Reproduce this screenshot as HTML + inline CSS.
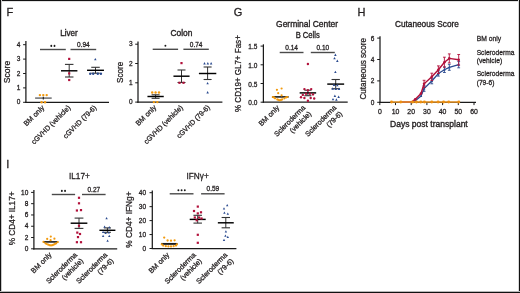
<!DOCTYPE html>
<html><head><meta charset="utf-8"><style>
html,body{margin:0;padding:0;background:#fff;overflow:hidden;}
svg{display:block;font-family:"Liberation Sans", sans-serif;will-change:transform;}
text{fill:#231f20;stroke:#231f20;stroke-width:0.28px;}
text.b{stroke-width:0.3px;}
text.p{stroke-width:0.3px;}
text.t{stroke-width:0.36px;}
</style></head><body>
<svg width="520" height="293" viewBox="0 0 520 293">
<rect width="520" height="293" fill="#fff"/>
<text x="6.6" y="15.9" font-size="11" class="p">F</text>
<text x="233.7" y="15.9" font-size="11" class="p">G</text>
<text x="357.6" y="15.9" font-size="11" class="p">H</text>
<text x="6.3" y="168.2" font-size="11" class="p">I</text>
<line x1="25.9" y1="41" x2="25.9" y2="102.9" stroke="#1a1a1a" stroke-width="1.25"/>
<line x1="25.3" y1="102.3" x2="109" y2="102.3" stroke="#1a1a1a" stroke-width="1.25"/>
<line x1="23.1" y1="102.3" x2="25.9" y2="102.3" stroke="#1a1a1a" stroke-width="1.0"/>
<text x="20.4" y="104.4" font-size="6.5" text-anchor="end">0</text>
<line x1="23.1" y1="87.9" x2="25.9" y2="87.9" stroke="#1a1a1a" stroke-width="1.0"/>
<text x="20.4" y="90.0" font-size="6.5" text-anchor="end">1</text>
<line x1="23.1" y1="73.5" x2="25.9" y2="73.5" stroke="#1a1a1a" stroke-width="1.0"/>
<text x="20.4" y="75.6" font-size="6.5" text-anchor="end">2</text>
<line x1="23.1" y1="59.1" x2="25.9" y2="59.1" stroke="#1a1a1a" stroke-width="1.0"/>
<text x="20.4" y="61.2" font-size="6.5" text-anchor="end">3</text>
<line x1="23.1" y1="44.7" x2="25.9" y2="44.7" stroke="#1a1a1a" stroke-width="1.0"/>
<text x="20.4" y="46.8" font-size="6.5" text-anchor="end">4</text>
<text x="69" y="35.9" font-size="8.7" text-anchor="middle" class="t" textLength="17.6" lengthAdjust="spacingAndGlyphs">Liver</text>
<text transform="translate(10.3,72.0) rotate(-90)" font-size="8.4" text-anchor="middle" textLength="22.4" lengthAdjust="spacingAndGlyphs">Score</text>
<line x1="40" y1="49.5" x2="65.8" y2="49.5" stroke="#4a4a4a" stroke-width="1.4"/>
<ellipse cx="51.3" cy="45.9" rx="0.95" ry="1.05" fill="#1a1a1a"/>
<ellipse cx="54.5" cy="45.9" rx="0.95" ry="1.05" fill="#1a1a1a"/>
<line x1="70.5" y1="49.5" x2="96.2" y2="49.5" stroke="#4a4a4a" stroke-width="1.4"/>
<text x="83.35" y="46.9" font-size="6.5" text-anchor="middle">0.94</text>
<circle cx="39.9" cy="95.1" r="1.2" fill="#f29a0e"/>
<circle cx="43.3" cy="95.1" r="1.2" fill="#f29a0e"/>
<circle cx="46.7" cy="95.1" r="1.2" fill="#f29a0e"/>
<circle cx="41.6" cy="102.3" r="1.2" fill="#f29a0e"/>
<circle cx="45.0" cy="102.3" r="1.2" fill="#f29a0e"/>
<line x1="35.1" y1="98.1" x2="51.7" y2="98.1" stroke="#6d6e71" stroke-width="1.5"/>
<line x1="43.3" y1="96.8" x2="43.3" y2="99.6" stroke="#1a1a1a" stroke-width="1.1"/>
<line x1="69.2" y1="64.4" x2="69.2" y2="77.0" stroke="#333" stroke-width="1.0"/>
<line x1="64.95" y1="64.4" x2="73.45" y2="64.4" stroke="#333" stroke-width="1.1"/>
<line x1="64.95" y1="77.0" x2="73.45" y2="77.0" stroke="#333" stroke-width="1.1"/>
<line x1="61.0" y1="70.8" x2="77.4" y2="70.8" stroke="#000" stroke-width="1.45"/>
<rect x="68.1" y="57.8" width="2.2" height="2.2" fill="#b2113b"/>
<rect x="68.1" y="72.3" width="2.2" height="2.2" fill="#b2113b"/>
<rect x="68.1" y="78.9" width="2.2" height="2.2" fill="#b2113b"/>
<line x1="95.5" y1="67.3" x2="95.5" y2="73.2" stroke="#333" stroke-width="1.0"/>
<line x1="91.25" y1="67.3" x2="99.75" y2="67.3" stroke="#333" stroke-width="1.1"/>
<line x1="91.25" y1="73.2" x2="99.75" y2="73.2" stroke="#333" stroke-width="1.1"/>
<line x1="87.05" y1="70.3" x2="103.95" y2="70.3" stroke="#000" stroke-width="1.45"/>
<path d="M95.3 57.88L96.55 60.25L94.05 60.25Z" fill="#2a4a8f"/>
<circle cx="90.2" cy="73.7" r="1.2" fill="#2a4a8f"/>
<circle cx="93.2" cy="73.7" r="1.2" fill="#2a4a8f"/>
<circle cx="97.8" cy="73.7" r="1.2" fill="#2a4a8f"/>
<circle cx="100.9" cy="73.7" r="1.2" fill="#2a4a8f"/>
<text transform="translate(44.8,108.2) rotate(-45)" font-size="7.2" text-anchor="end">BM only</text>
<text transform="translate(70.8,108.2) rotate(-45)" font-size="7.2" text-anchor="end" textLength="51.6" lengthAdjust="spacingAndGlyphs">cGVHD (vehicle)</text>
<text transform="translate(96.8,108.2) rotate(-45)" font-size="7.2" text-anchor="end" textLength="43.4" lengthAdjust="spacingAndGlyphs">cGVHD (79-6)</text>
<line x1="138.0" y1="41.6" x2="138.0" y2="102.7" stroke="#1a1a1a" stroke-width="1.25"/>
<line x1="137.4" y1="102.1" x2="222.4" y2="102.1" stroke="#1a1a1a" stroke-width="1.25"/>
<line x1="135.2" y1="102.1" x2="138.0" y2="102.1" stroke="#1a1a1a" stroke-width="1.0"/>
<text x="132.5" y="104.2" font-size="6.5" text-anchor="end">0</text>
<line x1="135.2" y1="82.8" x2="138.0" y2="82.8" stroke="#1a1a1a" stroke-width="1.0"/>
<text x="132.5" y="84.9" font-size="6.5" text-anchor="end">1</text>
<line x1="135.2" y1="63.5" x2="138.0" y2="63.5" stroke="#1a1a1a" stroke-width="1.0"/>
<text x="132.5" y="65.6" font-size="6.5" text-anchor="end">2</text>
<line x1="135.2" y1="44.2" x2="138.0" y2="44.2" stroke="#1a1a1a" stroke-width="1.0"/>
<text x="132.5" y="46.3" font-size="6.5" text-anchor="end">3</text>
<text x="181.5" y="36.0" font-size="8.7" text-anchor="middle" class="t" textLength="21.9" lengthAdjust="spacingAndGlyphs">Colon</text>
<text transform="translate(122.6,72.3) rotate(-90)" font-size="8.4" text-anchor="middle" textLength="21.2" lengthAdjust="spacingAndGlyphs">Score</text>
<line x1="152.7" y1="49.3" x2="178.1" y2="49.3" stroke="#4a4a4a" stroke-width="1.4"/>
<ellipse cx="165.4" cy="45.7" rx="0.95" ry="1.05" fill="#1a1a1a"/>
<line x1="183.4" y1="49.3" x2="208.8" y2="49.3" stroke="#4a4a4a" stroke-width="1.4"/>
<text x="196.1" y="46.7" font-size="6.5" text-anchor="middle">0.74</text>
<circle cx="152.2" cy="92.44999999999999" r="1.2" fill="#f29a0e"/>
<circle cx="155.6" cy="92.44999999999999" r="1.2" fill="#f29a0e"/>
<circle cx="159.0" cy="92.44999999999999" r="1.2" fill="#f29a0e"/>
<circle cx="153.9" cy="102.1" r="1.2" fill="#f29a0e"/>
<circle cx="157.3" cy="102.1" r="1.2" fill="#f29a0e"/>
<line x1="155.6" y1="94.8" x2="155.6" y2="98.3" stroke="#333" stroke-width="1.0"/>
<line x1="151.6" y1="94.8" x2="159.6" y2="94.8" stroke="#333" stroke-width="1.1"/>
<line x1="151.6" y1="98.3" x2="159.6" y2="98.3" stroke="#333" stroke-width="1.1"/>
<line x1="147.45" y1="96.5" x2="163.75" y2="96.5" stroke="#000" stroke-width="1.45"/>
<line x1="181.5" y1="70.0" x2="181.5" y2="82.5" stroke="#333" stroke-width="1.0"/>
<line x1="177.5" y1="70.0" x2="185.5" y2="70.0" stroke="#333" stroke-width="1.1"/>
<line x1="177.5" y1="82.5" x2="185.5" y2="82.5" stroke="#333" stroke-width="1.1"/>
<line x1="173.45" y1="76.2" x2="189.55" y2="76.2" stroke="#000" stroke-width="1.45"/>
<rect x="180.4" y="62.0" width="2.2" height="2.2" fill="#b2113b"/>
<rect x="178.4" y="81.7" width="2.2" height="2.2" fill="#b2113b"/>
<rect x="182.4" y="81.7" width="2.2" height="2.2" fill="#b2113b"/>
<line x1="207.6" y1="67.0" x2="207.6" y2="79.5" stroke="#333" stroke-width="1.0"/>
<line x1="203.6" y1="67.0" x2="211.6" y2="67.0" stroke="#333" stroke-width="1.1"/>
<line x1="203.6" y1="79.5" x2="211.6" y2="79.5" stroke="#333" stroke-width="1.1"/>
<line x1="198.9" y1="73.5" x2="216.3" y2="73.5" stroke="#000" stroke-width="1.45"/>
<path d="M204.5 62.08L205.75 64.45L203.25 64.45Z" fill="#2a4a8f"/>
<path d="M207.8 62.08L209.05 64.45L206.55 64.45Z" fill="#2a4a8f"/>
<path d="M211.1 62.08L212.35 64.45L209.85 64.45Z" fill="#2a4a8f"/>
<path d="M207.6 81.98L208.85 84.35L206.35 84.35Z" fill="#2a4a8f"/>
<path d="M207.6 91.08L208.85 93.45L206.35 93.45Z" fill="#2a4a8f"/>
<text transform="translate(156.8,108.0) rotate(-45)" font-size="7.2" text-anchor="end">BM only</text>
<text transform="translate(183.3,108.0) rotate(-45)" font-size="7.2" text-anchor="end" textLength="51.6" lengthAdjust="spacingAndGlyphs">cGVHD (vehicle)</text>
<text transform="translate(210.3,108.0) rotate(-45)" font-size="7.2" text-anchor="end" textLength="43.4" lengthAdjust="spacingAndGlyphs">cGVHD (79-6)</text>
<line x1="263.4" y1="44.3" x2="263.4" y2="102.8" stroke="#1a1a1a" stroke-width="1.25"/>
<line x1="262.8" y1="102.2" x2="347.7" y2="102.2" stroke="#1a1a1a" stroke-width="1.25"/>
<line x1="260.6" y1="102.2" x2="263.4" y2="102.2" stroke="#1a1a1a" stroke-width="1.0"/>
<text x="257.4" y="105.2" font-size="6.5" text-anchor="end">0.0</text>
<line x1="260.6" y1="83.5" x2="263.4" y2="83.5" stroke="#1a1a1a" stroke-width="1.0"/>
<text x="257.4" y="86.5" font-size="6.5" text-anchor="end">0.5</text>
<line x1="260.6" y1="64.8" x2="263.4" y2="64.8" stroke="#1a1a1a" stroke-width="1.0"/>
<text x="257.4" y="67.8" font-size="6.5" text-anchor="end">1.0</text>
<line x1="260.6" y1="46.1" x2="263.4" y2="46.1" stroke="#1a1a1a" stroke-width="1.0"/>
<text x="257.4" y="49.1" font-size="6.5" text-anchor="end">1.5</text>
<text x="307.1" y="26.6" font-size="9.0" text-anchor="middle" class="t" textLength="62" lengthAdjust="spacingAndGlyphs">Germinal Center</text>
<text x="307.7" y="37.7" font-size="9.0" text-anchor="middle" class="t" textLength="24.1" lengthAdjust="spacingAndGlyphs">B Cells</text>
<text transform="translate(241.4,73.6) rotate(-90)" font-size="9.0" text-anchor="middle" textLength="76.8" lengthAdjust="spacingAndGlyphs">% CD19+ GL7+ Fas+</text>
<line x1="279.7" y1="52.5" x2="303.5" y2="52.5" stroke="#4a4a4a" stroke-width="1.4"/>
<text x="291.6" y="49.9" font-size="6.5" text-anchor="middle">0.14</text>
<line x1="310.8" y1="52.5" x2="334.8" y2="52.5" stroke="#4a4a4a" stroke-width="1.4"/>
<text x="322.8" y="49.9" font-size="6.5" text-anchor="middle">0.10</text>
<line x1="272" y1="96.9" x2="288.6" y2="96.9" stroke="#1a1a1a" stroke-width="1.6"/>
<circle cx="276.9" cy="89.8" r="1.1" fill="#f29a0e"/>
<circle cx="281.6" cy="88.5" r="1.1" fill="#f29a0e"/>
<circle cx="278.2" cy="93.2" r="1.1" fill="#f29a0e"/>
<circle cx="281.6" cy="95.3" r="1.1" fill="#f29a0e"/>
<circle cx="272.8" cy="97" r="1.1" fill="#f29a0e"/>
<circle cx="275" cy="98.3" r="1.1" fill="#f29a0e"/>
<circle cx="277.3" cy="99.4" r="1.1" fill="#f29a0e"/>
<circle cx="279.7" cy="100.4" r="1.1" fill="#f29a0e"/>
<circle cx="282.2" cy="99.4" r="1.1" fill="#f29a0e"/>
<circle cx="284.4" cy="98.3" r="1.1" fill="#f29a0e"/>
<circle cx="287.3" cy="97" r="1.1" fill="#f29a0e"/>
<circle cx="274.0" cy="97.4" r="1.1" fill="#f29a0e"/>
<circle cx="286.1" cy="97.4" r="1.1" fill="#f29a0e"/>
<circle cx="278.5" cy="99.9" r="1.1" fill="#f29a0e"/>
<circle cx="281.0" cy="99.9" r="1.1" fill="#f29a0e"/>
<line x1="307.9" y1="90.2" x2="307.9" y2="95.7" stroke="#333" stroke-width="1.0"/>
<line x1="304.4" y1="90.2" x2="311.4" y2="90.2" stroke="#333" stroke-width="1.1"/>
<line x1="304.4" y1="95.7" x2="311.4" y2="95.7" stroke="#333" stroke-width="1.1"/>
<line x1="299.65" y1="92.9" x2="316.15" y2="92.9" stroke="#000" stroke-width="1.45"/>
<circle cx="307.9" cy="64" r="1.2" fill="#b2113b"/>
<circle cx="304.4" cy="89.1" r="1.2" fill="#b2113b"/>
<circle cx="307.9" cy="90.2" r="1.2" fill="#b2113b"/>
<circle cx="311.2" cy="89.1" r="1.2" fill="#b2113b"/>
<circle cx="302.8" cy="94.9" r="1.2" fill="#b2113b"/>
<circle cx="306" cy="93.8" r="1.2" fill="#b2113b"/>
<circle cx="309.9" cy="93.8" r="1.2" fill="#b2113b"/>
<circle cx="313" cy="94.4" r="1.2" fill="#b2113b"/>
<circle cx="301" cy="97.2" r="1.2" fill="#b2113b"/>
<circle cx="304.4" cy="98" r="1.2" fill="#b2113b"/>
<circle cx="310.7" cy="98" r="1.2" fill="#b2113b"/>
<circle cx="314.2" cy="98.5" r="1.2" fill="#b2113b"/>
<circle cx="307.9" cy="100.7" r="1.2" fill="#b2113b"/>
<line x1="335.7" y1="79.5" x2="335.7" y2="88.7" stroke="#333" stroke-width="1.0"/>
<line x1="331.55" y1="79.5" x2="339.85" y2="79.5" stroke="#333" stroke-width="1.1"/>
<line x1="331.55" y1="88.7" x2="339.85" y2="88.7" stroke="#333" stroke-width="1.1"/>
<line x1="327.25" y1="84.1" x2="344.15" y2="84.1" stroke="#000" stroke-width="1.45"/>
<path d="M335.4 53.58L336.65 55.95L334.15 55.95Z" fill="#2a4a8f"/>
<path d="M334.5 56.88L335.75 59.25L333.25 59.25Z" fill="#2a4a8f"/>
<path d="M337.3 59.58L338.55 61.95L336.05 61.95Z" fill="#2a4a8f"/>
<path d="M335.4 70.67L336.65 73.05L334.15 73.05Z" fill="#2a4a8f"/>
<path d="M334 83.58L335.25 85.95L332.75 85.95Z" fill="#2a4a8f"/>
<path d="M337.3 83.98L338.55 86.35L336.05 86.35Z" fill="#2a4a8f"/>
<path d="M332.7 87.28L333.95 89.65L331.45 89.65Z" fill="#2a4a8f"/>
<path d="M335.8 87.58L337.05 89.95L334.55 89.95Z" fill="#2a4a8f"/>
<path d="M339 87.58L340.25 89.95L337.75 89.95Z" fill="#2a4a8f"/>
<path d="M334.9 94.58L336.15 96.95L333.65 96.95Z" fill="#2a4a8f"/>
<path d="M338.6 95.58L339.85 97.95L337.35 97.95Z" fill="#2a4a8f"/>
<path d="M333 97.98L334.25 100.35L331.75 100.35Z" fill="#2a4a8f"/>
<path d="M336.4 98.28L337.65 100.65L335.15 100.65Z" fill="#2a4a8f"/>
<text transform="translate(279.8,108.2) rotate(-45)" font-size="7.2" text-anchor="end">BM only</text>
<text transform="translate(305.8,108.2) rotate(-45)" font-size="7.2" text-anchor="end">Scleroderma</text>
<text transform="translate(311.81,114.21) rotate(-45)" font-size="7.2" text-anchor="end">(vehicle)</text>
<text transform="translate(336.8,108.2) rotate(-45)" font-size="7.2" text-anchor="end">Scleroderma</text>
<text transform="translate(342.81,114.21) rotate(-45)" font-size="7.2" text-anchor="end">(79-6)</text>
<line x1="380.0" y1="36.2" x2="380.0" y2="102.9" stroke="#1a1a1a" stroke-width="1.25"/>
<line x1="379.4" y1="102.3" x2="476" y2="102.3" stroke="#1a1a1a" stroke-width="1.25"/>
<line x1="377.2" y1="102.3" x2="380.0" y2="102.3" stroke="#1a1a1a" stroke-width="1.0"/>
<text x="374.4" y="104.8" font-size="6.5" text-anchor="end">0</text>
<line x1="377.2" y1="80.9" x2="380.0" y2="80.9" stroke="#1a1a1a" stroke-width="1.0"/>
<text x="374.4" y="83.4" font-size="6.5" text-anchor="end">2</text>
<line x1="377.2" y1="59.5" x2="380.0" y2="59.5" stroke="#1a1a1a" stroke-width="1.0"/>
<text x="374.4" y="62.0" font-size="6.5" text-anchor="end">4</text>
<line x1="377.2" y1="38.1" x2="380.0" y2="38.1" stroke="#1a1a1a" stroke-width="1.0"/>
<text x="374.4" y="40.6" font-size="6.5" text-anchor="end">6</text>
<line x1="379.8" y1="102.3" x2="379.8" y2="105.1" stroke="#1a1a1a" stroke-width="1.0"/>
<text x="379.8" y="114.0" font-size="6.9" text-anchor="middle">0</text>
<line x1="395.5" y1="102.3" x2="395.5" y2="105.1" stroke="#1a1a1a" stroke-width="1.0"/>
<text x="395.5" y="114.0" font-size="6.9" text-anchor="middle">10</text>
<line x1="411.2" y1="102.3" x2="411.2" y2="105.1" stroke="#1a1a1a" stroke-width="1.0"/>
<text x="411.2" y="114.0" font-size="6.9" text-anchor="middle">20</text>
<line x1="426.9" y1="102.3" x2="426.9" y2="105.1" stroke="#1a1a1a" stroke-width="1.0"/>
<text x="426.9" y="114.0" font-size="6.9" text-anchor="middle">30</text>
<line x1="442.6" y1="102.3" x2="442.6" y2="105.1" stroke="#1a1a1a" stroke-width="1.0"/>
<text x="442.6" y="114.0" font-size="6.9" text-anchor="middle">40</text>
<line x1="458.3" y1="102.3" x2="458.3" y2="105.1" stroke="#1a1a1a" stroke-width="1.0"/>
<text x="458.3" y="114.0" font-size="6.9" text-anchor="middle">50</text>
<line x1="474.0" y1="102.3" x2="474.0" y2="105.1" stroke="#1a1a1a" stroke-width="1.0"/>
<text x="474.0" y="114.0" font-size="6.9" text-anchor="middle">60</text>
<text x="426.9" y="26.6" font-size="9.0" text-anchor="middle" class="t" textLength="63.9" lengthAdjust="spacingAndGlyphs">Cutaneous Score</text>
<text x="428.9" y="127.2" font-size="9.0" text-anchor="middle" class="t" textLength="77.7" lengthAdjust="spacingAndGlyphs">Days post transplant</text>
<text transform="translate(365.9,68.8) rotate(-90)" font-size="9.0" text-anchor="middle" textLength="61.5" lengthAdjust="spacingAndGlyphs">Cutaneous score</text>
<polyline points="400.8,102.3 411.6,102.3 415.3,100.7 421,96 424.1,88.5 431.8,81 438.4,73.5 444.4,69.7 449.3,67.3 458.7,64.6" fill="none" stroke="#2a4a8f" stroke-width="1.3"/>
<line x1="424.1" y1="85.7" x2="424.1" y2="91.3" stroke="#2a4a8f" stroke-width="0.9"/>
<line x1="422.7" y1="91.3" x2="425.5" y2="91.3" stroke="#2a4a8f" stroke-width="0.9"/>
<line x1="422.7" y1="85.7" x2="425.5" y2="85.7" stroke="#2a4a8f" stroke-width="0.9"/>
<line x1="431.8" y1="78.2" x2="431.8" y2="83.8" stroke="#2a4a8f" stroke-width="0.9"/>
<line x1="430.4" y1="83.8" x2="433.2" y2="83.8" stroke="#2a4a8f" stroke-width="0.9"/>
<line x1="430.4" y1="78.2" x2="433.2" y2="78.2" stroke="#2a4a8f" stroke-width="0.9"/>
<line x1="438.4" y1="70.9" x2="438.4" y2="76.1" stroke="#2a4a8f" stroke-width="0.9"/>
<line x1="437.0" y1="76.1" x2="439.8" y2="76.1" stroke="#2a4a8f" stroke-width="0.9"/>
<line x1="437.0" y1="70.9" x2="439.8" y2="70.9" stroke="#2a4a8f" stroke-width="0.9"/>
<line x1="444.4" y1="66.9" x2="444.4" y2="72.5" stroke="#2a4a8f" stroke-width="0.9"/>
<line x1="443.0" y1="72.5" x2="445.8" y2="72.5" stroke="#2a4a8f" stroke-width="0.9"/>
<line x1="443.0" y1="66.9" x2="445.8" y2="66.9" stroke="#2a4a8f" stroke-width="0.9"/>
<line x1="449.3" y1="64.3" x2="449.3" y2="70.3" stroke="#2a4a8f" stroke-width="0.9"/>
<line x1="447.9" y1="70.3" x2="450.7" y2="70.3" stroke="#2a4a8f" stroke-width="0.9"/>
<line x1="447.9" y1="64.3" x2="450.7" y2="64.3" stroke="#2a4a8f" stroke-width="0.9"/>
<line x1="458.7" y1="61.4" x2="458.7" y2="67.8" stroke="#2a4a8f" stroke-width="0.9"/>
<line x1="457.3" y1="67.8" x2="460.1" y2="67.8" stroke="#2a4a8f" stroke-width="0.9"/>
<line x1="457.3" y1="61.4" x2="460.1" y2="61.4" stroke="#2a4a8f" stroke-width="0.9"/>
<path d="M415.3 99.28L416.55 101.65L414.05 101.65Z" fill="#2a4a8f"/>
<path d="M421 94.58L422.25 96.95L419.75 96.95Z" fill="#2a4a8f"/>
<path d="M424.1 87.08L425.35 89.45L422.85 89.45Z" fill="#2a4a8f"/>
<path d="M431.8 79.58L433.05 81.95L430.55 81.95Z" fill="#2a4a8f"/>
<path d="M438.4 72.08L439.65 74.45L437.15 74.45Z" fill="#2a4a8f"/>
<path d="M444.4 68.28L445.65 70.65L443.15 70.65Z" fill="#2a4a8f"/>
<path d="M449.3 65.88L450.55 68.25L448.05 68.25Z" fill="#2a4a8f"/>
<path d="M458.7 63.17L459.95 65.55L457.45 65.55Z" fill="#2a4a8f"/>
<polyline points="400.8,102.0 411.6,102.0 415.3,99.2 421,93.5 424.1,83.8 431.8,76.8 438.4,69.7 444.4,62.2 449.3,58.4 458.7,59.8" fill="none" stroke="#b2113b" stroke-width="1.45"/>
<line x1="424.1" y1="80.3" x2="424.1" y2="87.3" stroke="#b2113b" stroke-width="0.9"/>
<line x1="422.7" y1="80.3" x2="425.5" y2="80.3" stroke="#b2113b" stroke-width="0.9"/>
<line x1="422.7" y1="87.3" x2="425.5" y2="87.3" stroke="#b2113b" stroke-width="0.9"/>
<line x1="431.8" y1="73.2" x2="431.8" y2="80.4" stroke="#b2113b" stroke-width="0.9"/>
<line x1="430.4" y1="73.2" x2="433.2" y2="73.2" stroke="#b2113b" stroke-width="0.9"/>
<line x1="430.4" y1="80.4" x2="433.2" y2="80.4" stroke="#b2113b" stroke-width="0.9"/>
<line x1="438.4" y1="65.9" x2="438.4" y2="73.5" stroke="#b2113b" stroke-width="0.9"/>
<line x1="437.0" y1="65.9" x2="439.8" y2="65.9" stroke="#b2113b" stroke-width="0.9"/>
<line x1="437.0" y1="73.5" x2="439.8" y2="73.5" stroke="#b2113b" stroke-width="0.9"/>
<line x1="444.4" y1="57.2" x2="444.4" y2="67.2" stroke="#b2113b" stroke-width="0.9"/>
<line x1="443.0" y1="57.2" x2="445.8" y2="57.2" stroke="#b2113b" stroke-width="0.9"/>
<line x1="443.0" y1="67.2" x2="445.8" y2="67.2" stroke="#b2113b" stroke-width="0.9"/>
<line x1="449.3" y1="53.9" x2="449.3" y2="62.9" stroke="#b2113b" stroke-width="0.9"/>
<line x1="447.9" y1="53.9" x2="450.7" y2="53.9" stroke="#b2113b" stroke-width="0.9"/>
<line x1="447.9" y1="62.9" x2="450.7" y2="62.9" stroke="#b2113b" stroke-width="0.9"/>
<line x1="458.7" y1="54.5" x2="458.7" y2="65.1" stroke="#b2113b" stroke-width="0.9"/>
<line x1="457.3" y1="54.5" x2="460.1" y2="54.5" stroke="#b2113b" stroke-width="0.9"/>
<line x1="457.3" y1="65.1" x2="460.1" y2="65.1" stroke="#b2113b" stroke-width="0.9"/>
<circle cx="415.3" cy="99.2" r="1.3" fill="#b2113b"/>
<circle cx="421" cy="93.5" r="1.3" fill="#b2113b"/>
<circle cx="424.1" cy="83.8" r="1.3" fill="#b2113b"/>
<circle cx="431.8" cy="76.8" r="1.3" fill="#b2113b"/>
<circle cx="438.4" cy="69.7" r="1.3" fill="#b2113b"/>
<circle cx="444.4" cy="62.2" r="1.3" fill="#b2113b"/>
<circle cx="449.3" cy="58.4" r="1.3" fill="#b2113b"/>
<circle cx="458.7" cy="59.8" r="1.3" fill="#b2113b"/>
<polyline points="391.5,102.0 400.8,102.0 412.6,102.0 416.4,102.0 420.8,102.0 424.4,102.0 431.8,102.0 438.1,102.0 443.6,102.0 448.7,102.0 458.8,102.0" fill="none" stroke="#ee9a2a" stroke-width="1.3"/>
<circle cx="391.5" cy="102.0" r="1.45" fill="#ec8f10"/>
<circle cx="400.8" cy="102.0" r="1.45" fill="#ec8f10"/>
<circle cx="412.6" cy="102.0" r="1.45" fill="#ec8f10"/>
<circle cx="416.4" cy="102.0" r="1.45" fill="#ec8f10"/>
<circle cx="420.8" cy="102.0" r="1.45" fill="#ec8f10"/>
<circle cx="424.4" cy="102.0" r="1.45" fill="#ec8f10"/>
<circle cx="431.8" cy="102.0" r="1.45" fill="#ec8f10"/>
<circle cx="438.1" cy="102.0" r="1.45" fill="#ec8f10"/>
<circle cx="443.6" cy="102.0" r="1.45" fill="#ec8f10"/>
<circle cx="448.7" cy="102.0" r="1.45" fill="#ec8f10"/>
<circle cx="458.8" cy="102.0" r="1.45" fill="#ec8f10"/>
<text x="476.7" y="40.6" font-size="7.1" textLength="24.4" lengthAdjust="spacingAndGlyphs">BM only</text>
<text x="476.7" y="54.5" font-size="7.1" textLength="37.7" lengthAdjust="spacingAndGlyphs">Scleroderma</text>
<text x="476.7" y="62.8" font-size="7.1" textLength="25.5" lengthAdjust="spacingAndGlyphs">(vehicle)</text>
<text x="476.7" y="76.2" font-size="7.1" textLength="37.7" lengthAdjust="spacingAndGlyphs">Scleroderma</text>
<text x="476.7" y="84.5" font-size="7.1" textLength="17.7" lengthAdjust="spacingAndGlyphs">(79-6)</text>
<line x1="33.9" y1="189.9" x2="33.9" y2="249.4" stroke="#1a1a1a" stroke-width="1.25"/>
<line x1="33.3" y1="248.8" x2="117.2" y2="248.8" stroke="#1a1a1a" stroke-width="1.25"/>
<line x1="31.1" y1="248.8" x2="33.9" y2="248.8" stroke="#1a1a1a" stroke-width="1.0"/>
<text x="28.3" y="250.9" font-size="6.5" text-anchor="end">0</text>
<line x1="31.1" y1="237.52" x2="33.9" y2="237.52" stroke="#1a1a1a" stroke-width="1.0"/>
<text x="28.3" y="239.62" font-size="6.5" text-anchor="end">2</text>
<line x1="31.1" y1="226.24" x2="33.9" y2="226.24" stroke="#1a1a1a" stroke-width="1.0"/>
<text x="28.3" y="228.34" font-size="6.5" text-anchor="end">4</text>
<line x1="31.1" y1="214.96" x2="33.9" y2="214.96" stroke="#1a1a1a" stroke-width="1.0"/>
<text x="28.3" y="217.06" font-size="6.5" text-anchor="end">6</text>
<line x1="31.1" y1="203.68" x2="33.9" y2="203.68" stroke="#1a1a1a" stroke-width="1.0"/>
<text x="28.3" y="205.78" font-size="6.5" text-anchor="end">8</text>
<line x1="31.1" y1="192.4" x2="33.9" y2="192.4" stroke="#1a1a1a" stroke-width="1.0"/>
<text x="28.3" y="194.5" font-size="6.5" text-anchor="end">10</text>
<text x="79.4" y="178.6" font-size="9.0" text-anchor="middle" textLength="20.8" lengthAdjust="spacingAndGlyphs">IL17+</text>
<text transform="translate(14.7,218.4) rotate(-90)" font-size="8.6" text-anchor="middle" textLength="53.8" lengthAdjust="spacingAndGlyphs">% CD4+ IL17+</text>
<line x1="51.8" y1="194.5" x2="75.1" y2="194.5" stroke="#4a4a4a" stroke-width="1.4"/>
<ellipse cx="61.85" cy="190.9" rx="0.95" ry="1.05" fill="#1a1a1a"/>
<ellipse cx="65.05" cy="190.9" rx="0.95" ry="1.05" fill="#1a1a1a"/>
<line x1="82.0" y1="194.5" x2="105.6" y2="194.5" stroke="#4a4a4a" stroke-width="1.4"/>
<text x="93.8" y="191.9" font-size="6.5" text-anchor="middle">0.27</text>
<line x1="43.1" y1="241.9" x2="57.8" y2="241.9" stroke="#1a1a1a" stroke-width="1.6"/>
<circle cx="50.8" cy="236.6" r="1.1" fill="#f29a0e"/>
<circle cx="47.2" cy="238.9" r="1.1" fill="#f29a0e"/>
<circle cx="54.4" cy="238.7" r="1.1" fill="#f29a0e"/>
<circle cx="50.6" cy="240.2" r="1.1" fill="#f29a0e"/>
<circle cx="43.5" cy="241.9" r="1.1" fill="#f29a0e"/>
<circle cx="57.8" cy="242.1" r="1.1" fill="#f29a0e"/>
<circle cx="45.5" cy="243.3" r="1.1" fill="#f29a0e"/>
<circle cx="48.2" cy="244.7" r="1.1" fill="#f29a0e"/>
<circle cx="51" cy="245.4" r="1.1" fill="#f29a0e"/>
<circle cx="53.7" cy="244.7" r="1.1" fill="#f29a0e"/>
<circle cx="56.1" cy="243.3" r="1.1" fill="#f29a0e"/>
<circle cx="46.8" cy="244.0" r="1.1" fill="#f29a0e"/>
<circle cx="54.9" cy="244.0" r="1.1" fill="#f29a0e"/>
<circle cx="49.6" cy="245.2" r="1.1" fill="#f29a0e"/>
<circle cx="52.4" cy="245.2" r="1.1" fill="#f29a0e"/>
<line x1="79.0" y1="218.1" x2="79.0" y2="228.4" stroke="#333" stroke-width="1.0"/>
<line x1="74.6" y1="218.1" x2="83.4" y2="218.1" stroke="#333" stroke-width="1.1"/>
<line x1="74.6" y1="228.4" x2="83.4" y2="228.4" stroke="#333" stroke-width="1.1"/>
<line x1="70.65" y1="223.2" x2="87.35" y2="223.2" stroke="#000" stroke-width="1.45"/>
<rect x="77.9" y="196.7" width="2.2" height="2.2" fill="#b2113b"/>
<rect x="77.9" y="202.2" width="2.2" height="2.2" fill="#b2113b"/>
<rect x="75.8" y="209.4" width="2.2" height="2.2" fill="#b2113b"/>
<rect x="79.9" y="209.0" width="2.2" height="2.2" fill="#b2113b"/>
<rect x="77.9" y="224.7" width="2.2" height="2.2" fill="#b2113b"/>
<rect x="76.2" y="231.5" width="2.2" height="2.2" fill="#b2113b"/>
<rect x="78.9" y="232.9" width="2.2" height="2.2" fill="#b2113b"/>
<rect x="76.9" y="236.0" width="2.2" height="2.2" fill="#b2113b"/>
<rect x="75.8" y="241.1" width="2.2" height="2.2" fill="#b2113b"/>
<rect x="79.9" y="241.1" width="2.2" height="2.2" fill="#b2113b"/>
<line x1="107.4" y1="227.9" x2="107.4" y2="232.3" stroke="#333" stroke-width="1.0"/>
<line x1="103.9" y1="227.9" x2="110.9" y2="227.9" stroke="#333" stroke-width="1.1"/>
<line x1="103.9" y1="232.3" x2="110.9" y2="232.3" stroke="#333" stroke-width="1.1"/>
<line x1="99.4" y1="230.3" x2="115.4" y2="230.3" stroke="#000" stroke-width="1.45"/>
<path d="M106.6 216.93L107.8 219.21L105.4 219.21Z" fill="#2a4a8f"/>
<path d="M104.6 225.53L105.8 227.81L103.4 227.81Z" fill="#2a4a8f"/>
<path d="M109.3 225.93L110.5 228.21L108.1 228.21Z" fill="#2a4a8f"/>
<path d="M103.1 230.63L104.3 232.91L101.9 232.91Z" fill="#2a4a8f"/>
<path d="M105.6 231.63L106.8 233.91L104.4 233.91Z" fill="#2a4a8f"/>
<path d="M108.7 231.23L109.9 233.51L107.5 233.51Z" fill="#2a4a8f"/>
<path d="M103.1 234.73L104.3 237.01L101.9 237.01Z" fill="#2a4a8f"/>
<path d="M109.3 234.73L110.5 237.01L108.1 237.01Z" fill="#2a4a8f"/>
<path d="M107.6 239.43L108.8 241.71L106.4 241.71Z" fill="#2a4a8f"/>
<text transform="translate(52.1,255.3) rotate(-45)" font-size="7.2" text-anchor="end">BM only</text>
<text transform="translate(77.7,255.3) rotate(-45)" font-size="7.2" text-anchor="end">Scleroderma</text>
<text transform="translate(83.71,261.31) rotate(-45)" font-size="7.2" text-anchor="end">(vehicle)</text>
<text transform="translate(107.9,255.3) rotate(-45)" font-size="7.2" text-anchor="end">Scleroderma</text>
<text transform="translate(113.91,261.31) rotate(-45)" font-size="7.2" text-anchor="end">(79-6)</text>
<line x1="152.3" y1="190.4" x2="152.3" y2="249.1" stroke="#1a1a1a" stroke-width="1.25"/>
<line x1="151.7" y1="248.5" x2="236.4" y2="248.5" stroke="#1a1a1a" stroke-width="1.25"/>
<line x1="149.5" y1="248.5" x2="152.3" y2="248.5" stroke="#1a1a1a" stroke-width="1.0"/>
<text x="146.1" y="250.6" font-size="6.5" text-anchor="end">0</text>
<line x1="149.5" y1="234.55" x2="152.3" y2="234.55" stroke="#1a1a1a" stroke-width="1.0"/>
<text x="146.1" y="236.65" font-size="6.5" text-anchor="end">10</text>
<line x1="149.5" y1="220.6" x2="152.3" y2="220.6" stroke="#1a1a1a" stroke-width="1.0"/>
<text x="146.1" y="222.7" font-size="6.5" text-anchor="end">20</text>
<line x1="149.5" y1="206.65" x2="152.3" y2="206.65" stroke="#1a1a1a" stroke-width="1.0"/>
<text x="146.1" y="208.75" font-size="6.5" text-anchor="end">30</text>
<line x1="149.5" y1="192.7" x2="152.3" y2="192.7" stroke="#1a1a1a" stroke-width="1.0"/>
<text x="146.1" y="194.8" font-size="6.5" text-anchor="end">40</text>
<text x="197.6" y="179.1" font-size="9.0" text-anchor="middle" textLength="22.2" lengthAdjust="spacingAndGlyphs">IFNγ+</text>
<text transform="translate(132.4,219.6) rotate(-90)" font-size="8.5" text-anchor="middle" textLength="56.3" lengthAdjust="spacingAndGlyphs">% CD4+ IFNg+</text>
<line x1="169.7" y1="193.8" x2="193.5" y2="193.8" stroke="#4a4a4a" stroke-width="1.4"/>
<ellipse cx="178.4" cy="190.2" rx="0.95" ry="1.05" fill="#1a1a1a"/>
<ellipse cx="181.6" cy="190.2" rx="0.95" ry="1.05" fill="#1a1a1a"/>
<ellipse cx="184.8" cy="190.2" rx="0.95" ry="1.05" fill="#1a1a1a"/>
<line x1="201.1" y1="193.8" x2="224.6" y2="193.8" stroke="#4a4a4a" stroke-width="1.4"/>
<text x="212.85" y="191.2" font-size="6.5" text-anchor="middle">0.59</text>
<line x1="161.1" y1="243.9" x2="177.5" y2="243.9" stroke="#1a1a1a" stroke-width="1.9"/>
<circle cx="164.2" cy="237.6" r="1.15" fill="#f29a0e"/>
<circle cx="167.6" cy="240.5" r="1.15" fill="#f29a0e"/>
<circle cx="171" cy="240.7" r="1.15" fill="#f29a0e"/>
<circle cx="174.6" cy="240.3" r="1.15" fill="#f29a0e"/>
<circle cx="161.8" cy="244.3" r="1.15" fill="#f29a0e"/>
<circle cx="177.0" cy="244.3" r="1.15" fill="#f29a0e"/>
<circle cx="163.2" cy="245.6" r="1.15" fill="#f29a0e"/>
<circle cx="165.8" cy="246.2" r="1.15" fill="#f29a0e"/>
<circle cx="168.4" cy="246.4" r="1.15" fill="#f29a0e"/>
<circle cx="171" cy="246.4" r="1.15" fill="#f29a0e"/>
<circle cx="173.6" cy="246.2" r="1.15" fill="#f29a0e"/>
<circle cx="176" cy="245.6" r="1.15" fill="#f29a0e"/>
<line x1="197.7" y1="215.3" x2="197.7" y2="223.1" stroke="#333" stroke-width="1.0"/>
<line x1="193.45" y1="215.3" x2="201.95" y2="215.3" stroke="#333" stroke-width="1.1"/>
<line x1="193.45" y1="223.1" x2="201.95" y2="223.1" stroke="#333" stroke-width="1.1"/>
<line x1="189.7" y1="219.4" x2="205.7" y2="219.4" stroke="#000" stroke-width="1.45"/>
<rect x="196.7" y="205.5" width="2.2" height="2.2" fill="#b2113b"/>
<rect x="192.9" y="209.9" width="2.2" height="2.2" fill="#b2113b"/>
<rect x="199.9" y="211.2" width="2.2" height="2.2" fill="#b2113b"/>
<rect x="196.7" y="212.3" width="2.2" height="2.2" fill="#b2113b"/>
<rect x="193.7" y="216.4" width="2.2" height="2.2" fill="#b2113b"/>
<rect x="198.0" y="216.4" width="2.2" height="2.2" fill="#b2113b"/>
<rect x="200.4" y="217.4" width="2.2" height="2.2" fill="#b2113b"/>
<rect x="195.6" y="219.2" width="2.2" height="2.2" fill="#b2113b"/>
<rect x="196.7" y="233.7" width="2.2" height="2.2" fill="#b2113b"/>
<rect x="196.7" y="241.7" width="2.2" height="2.2" fill="#b2113b"/>
<line x1="225.8" y1="217.5" x2="225.8" y2="227.8" stroke="#333" stroke-width="1.0"/>
<line x1="221.6" y1="217.5" x2="230.0" y2="217.5" stroke="#333" stroke-width="1.1"/>
<line x1="221.6" y1="227.8" x2="230.0" y2="227.8" stroke="#333" stroke-width="1.1"/>
<line x1="217.85" y1="222.8" x2="233.75" y2="222.8" stroke="#000" stroke-width="1.45"/>
<path d="M227.2 203.93L228.4 206.21L226.0 206.21Z" fill="#2a4a8f"/>
<path d="M224 207.13L225.2 209.41L222.8 209.41Z" fill="#2a4a8f"/>
<path d="M224.4 211.43L225.6 213.71L223.2 213.71Z" fill="#2a4a8f"/>
<path d="M227.8 212.43L229.0 214.71L226.6 214.71Z" fill="#2a4a8f"/>
<path d="M225.9 230.23L227.1 232.51L224.7 232.51Z" fill="#2a4a8f"/>
<path d="M225.4 234.53L226.6 236.81L224.2 236.81Z" fill="#2a4a8f"/>
<path d="M227.8 235.83L229.0 238.11L226.6 238.11Z" fill="#2a4a8f"/>
<path d="M224 238.63L225.2 240.91L222.8 240.91Z" fill="#2a4a8f"/>
<text transform="translate(169.8,255.5) rotate(-45)" font-size="7.2" text-anchor="end">BM only</text>
<text transform="translate(196.3,255.5) rotate(-45)" font-size="7.2" text-anchor="end">Scleroderma</text>
<text transform="translate(202.31,261.51) rotate(-45)" font-size="7.2" text-anchor="end">(vehicle)</text>
<text transform="translate(227.9,255.5) rotate(-45)" font-size="7.2" text-anchor="end">Scleroderma</text>
<text transform="translate(233.91,261.51) rotate(-45)" font-size="7.2" text-anchor="end">(79-6)</text>
<rect x="0" y="0" width="520" height="1" fill="#111"/>
<rect x="0" y="1" width="520" height="1" fill="#e2e2e2"/>
<rect x="0" y="0" width="1" height="293" fill="#111"/>
<rect x="1" y="0" width="1" height="293" fill="#c8c8c8"/>
<rect x="519" y="0" width="1" height="293" fill="#111"/>
<rect x="518" y="0" width="1" height="293" fill="#d8d8d8"/>
<rect x="0" y="292" width="520" height="1" fill="#111"/>
<rect x="0" y="291" width="520" height="1" fill="#b8b8b8"/>
</svg>
</body></html>
